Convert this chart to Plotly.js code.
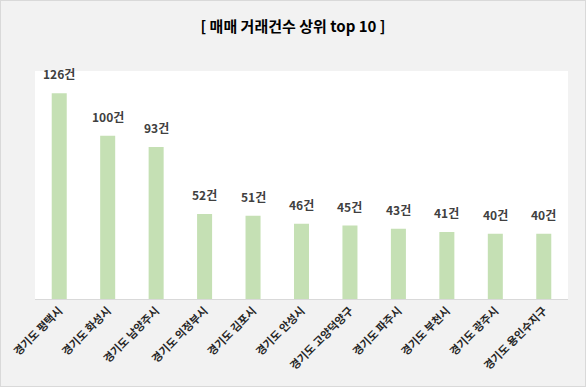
<!DOCTYPE html>
<html>
<head>
<meta charset="utf-8">
<script src="https://cdn.plot.ly/plotly-3.0.1.min.js"></script>
<style>
html,body{margin:0;padding:0;background:#f2f2f2;}
#chart{width:586px;height:387px;box-sizing:border-box;border:1px solid #d9d9d9;}
</style>
</head>
<body>
<div id="chart"></div>
<script>
const categories = ["경기도 평택시","경기도 화성시","경기도 남양주시","경기도 의정부시","경기도 김포시","경기도 안성시","경기도 고양덕양구","경기도 파주시","경기도 부천시","경기도 광주시","경기도 용인수지구"];
const counts = [126,100,93,52,51,46,45,43,41,40,40];
const unit = "건";

const fontKR = "'Noto Sans CJK KR', 'Noto Sans', sans-serif";

const annotations = categories.map((c,i)=>({
  x: c, y: counts[i], xref:'x', yref:'y',
  text: counts[i] + unit, showarrow:false,
  yanchor:'bottom', yshift: 9,
  font:{family:fontKR, size:12, color:'#404040', weight:'bold'}
}));

const trace = {
  type:'bar', x:categories, y:counts,
  marker:{color:'#c5e0b4'},
  hoverinfo:'none'
};

const layout = {
  width:584, height:385,
  margin:{l:34, r:17, t:70, b:87},
  paper_bgcolor:'#f2f2f2', plot_bgcolor:'#ffffff',
  bargap:0.69,
  showlegend:false,
  title:{text:'[ 매매 거래건수 상위 top 10 ]', x:0.5, xanchor:'center', y:0.932, yanchor:'middle',
    font:{family:fontKR, size:15, color:'#000000', weight:'bold'}},
  xaxis:{tickangle:-45, showgrid:false, showline:true, linecolor:'#d9d9d9', linewidth:1,
    ticks:'', tickfont:{family:fontKR, size:11, color:'#262626', weight:'bold'}, fixedrange:true},
  yaxis:{range:[0,139.6], visible:false, showgrid:false, zeroline:false, fixedrange:true},
  annotations:annotations
};

Plotly.newPlot('chart',[trace],layout,{displayModeBar:false, staticPlot:true});
</script>
</body>
</html>
